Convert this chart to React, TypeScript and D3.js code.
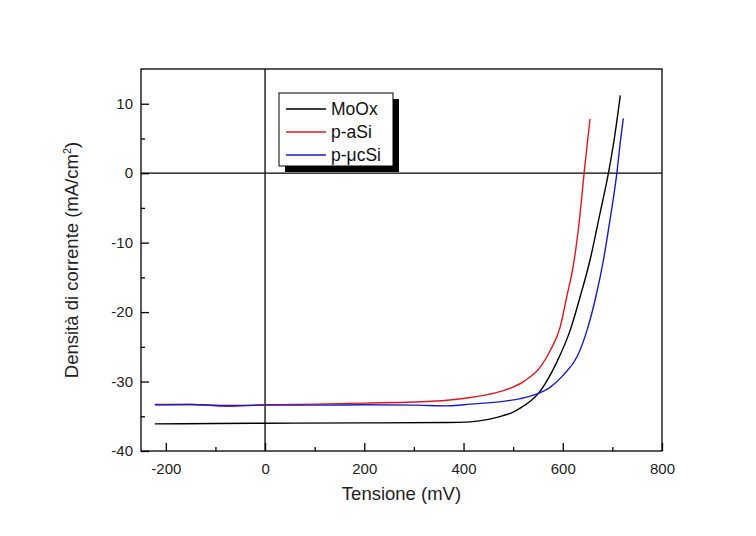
import React, { useEffect, useRef } from 'react';
import * as d3 from 'd3';

// J-V curves: [voltage mV, current density mA/cm2]
const moox: [number, number][] = [
  [-222, -36.1], [-100, -36.05], [0, -36.0], [200, -35.95], [367, -35.9], [414, -35.8],
  [450, -35.45], [480, -34.9], [500, -34.4], [515, -33.8], [535, -32.8], [551, -31.7],
  [568, -29.9], [588, -27.2], [615, -22.6], [635, -17.8], [655, -12.5], [675, -5.8],
  [692, 0], [705, 5.5], [716, 11.2],
];
const paSi: [number, number][] = [
  [-222, -33.3], [-150, -33.3], [-75, -33.55], [0, -33.35], [100, -33.25], [200, -33.1],
  [300, -32.95], [367, -32.7], [414, -32.3], [450, -31.85], [480, -31.3], [521, -30.0],
  [555, -27.9], [575, -25.5], [595, -22.1], [608, -17.8], [622, -13], [635, -5.8],
  [643, 0], [649, 4], [655, 7.8],
];
const pucSi: [number, number][] = [
  [-222, -33.35], [-150, -33.3], [-75, -33.45], [0, -33.4], [100, -33.4], [200, -33.35],
  [300, -33.4], [370, -33.5], [414, -33.25], [480, -32.85], [515, -32.45], [551, -31.7],
  [575, -30.8], [602, -29.0], [629, -26.4], [649, -22.6], [665, -18.3], [682, -12.5],
  [695, -6.8], [709, 0], [716, 4.5], [722, 7.9],
];

const seriesNames = ['MoOx', 'p-aSi', 'p-\u03bccSi'];
const seriesColors = ['#000000', '#e8141c', '#1a1acc'];
const seriesData = [moox, paSi, pucSi];

const xTicks = [-200, 0, 200, 400, 600, 800];
const yTicks = [-40, -30, -20, -10, 0, 10];

const W = 756;
const H = 536;
const margin = { top: 69, right: 94, bottom: 85, left: 141 };
const font = 'Liberation Sans, Arial, sans-serif';

function Chart() {
  const ref = useRef<SVGSVGElement>(null);

  useEffect(() => {
    const root = d3.select(ref.current);
    root.selectAll('*').remove();

    const width = W - margin.left - margin.right;
    const height = H - margin.top - margin.bottom;

    const svg = root.append('g').attr('transform', `translate(${margin.left},${margin.top})`);

    const xScale = d3.scaleLinear().domain([-250, 800]).range([0, width]);
    const yScale = d3.scaleLinear().domain([-40, 15]).range([height, 0]);

    // zero lines
    svg.append('line')
      .attr('x1', 0).attr('x2', width)
      .attr('y1', yScale(0)).attr('y2', yScale(0))
      .attr('stroke', '#000').attr('stroke-width', 1.3);
    svg.append('line')
      .attr('x1', xScale(0)).attr('x2', xScale(0))
      .attr('y1', 0).attr('y2', height)
      .attr('stroke', '#000').attr('stroke-width', 1.3);

    const line = d3.line<[number, number]>()
      .curve(d3.curveMonotoneX)
      .x(d => xScale(d[0]))
      .y(d => yScale(d[1]));

    seriesData.forEach((data, i) => {
      svg.append('path')
        .datum(data)
        .attr('fill', 'none')
        .attr('stroke', seriesColors[i])
        .attr('stroke-width', 1.4)
        .attr('d', line);
    });

    // frame
    svg.append('rect')
      .attr('width', width).attr('height', height)
      .attr('fill', 'none').attr('stroke', '#000').attr('stroke-width', 1.3);

    // bottom axis, ticks inward
    const xAxis = svg.append('g')
      .attr('transform', `translate(0,${height})`)
      .call(d3.axisBottom(xScale).tickValues(xTicks).tickSize(-8).tickPadding(12).tickFormat(d3.format('d')));
    svg.append('g')
      .attr('transform', `translate(0,${height})`)
      .call(d3.axisBottom(xScale).tickValues(d3.range(-200, 801, 100).filter(v => v % 200 !== 0)).tickSize(-4).tickFormat(() => ''));

    const yAxis = svg.append('g')
      .call(d3.axisLeft(yScale).tickValues(yTicks).tickSize(-8).tickPadding(8).tickFormat(d3.format('d')));
    svg.append('g')
      .call(d3.axisLeft(yScale).tickValues(d3.range(-35, 15, 10)).tickSize(-4).tickFormat(() => ''));

    svg.selectAll('.domain').remove();
    svg.selectAll('.tick line').attr('stroke', '#000').attr('stroke-width', 1.3);
    [xAxis, yAxis].forEach(a => a.selectAll('text')
      .style('font-family', font).style('font-size', '15px').attr('fill', '#222'));
    // tick labels use a hyphen-minus like the original
    svg.selectAll('.tick text').text(function () {
      return (d3.select(this).text() || '').replace('\u2212', '-');
    });

    // axis titles
    svg.append('text')
      .attr('x', width / 2).attr('y', height + 49)
      .attr('text-anchor', 'middle')
      .style('font-family', font).style('font-size', '18.5px').attr('fill', '#222')
      .text('Tensione (mV)');

    const yt = svg.append('text')
      .attr('transform', `translate(${-63},${height / 2}) rotate(-90)`)
      .attr('text-anchor', 'middle')
      .style('font-family', font).style('font-size', '18.5px').attr('fill', '#222');
    yt.append('tspan').text('Densit\u00e0 di corrente (mA/cm');
    yt.append('tspan').attr('dy', -7).style('font-size', '11px').text('2');
    yt.append('tspan').attr('dy', 7).text(')');

    // legend with drop shadow
    const lx = 279 - margin.left;
    const ly = 93 - margin.top;
    const lw = 114;
    const lh = 73;
    const lg = svg.append('g').attr('transform', `translate(${lx},${ly})`);
    lg.append('rect').attr('x', 6).attr('y', 6).attr('width', lw).attr('height', lh).attr('fill', '#000');
    lg.append('rect').attr('width', lw).attr('height', lh)
      .attr('fill', '#fff').attr('stroke', '#000').attr('stroke-width', 1);
    seriesNames.forEach((name, i) => {
      const yy = 16 + i * 23;
      lg.append('line').attr('x1', 7).attr('x2', 47).attr('y1', yy).attr('y2', yy)
        .attr('stroke', seriesColors[i]).attr('stroke-width', 1.4);
      lg.append('text').attr('x', 52).attr('y', yy).attr('dy', '0.36em')
        .style('font-family', font).style('font-size', '17.5px').attr('fill', '#111')
        .text(name);
    });
  }, []);

  return <svg ref={ref} width={W} height={H} />;
}

export default function App() {
  return (
    <div style={{ margin: -8 }}>
      <Chart />
    </div>
  );
}
